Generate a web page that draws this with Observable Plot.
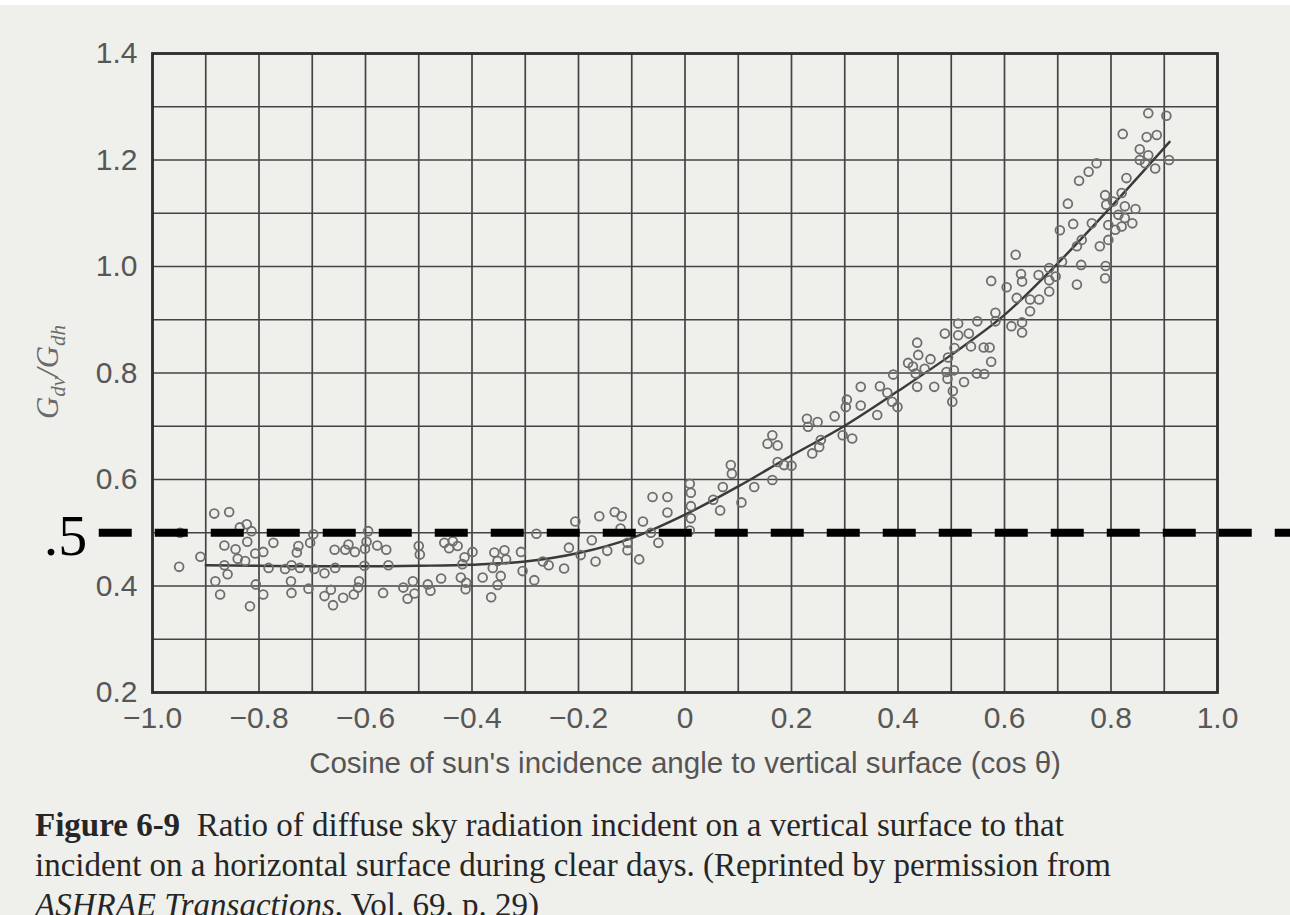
<!DOCTYPE html>
<html>
<head>
<meta charset="utf-8">
<script src="https://cdn.jsdelivr.net/npm/d3@7"></script>
<script src="https://cdn.jsdelivr.net/npm/@observablehq/plot@0.6"></script>
<style>
  html, body { margin: 0; padding: 0; background: #efefeb; }
  body { width: 1290px; height: 915px; overflow: hidden; position: relative; }
  #topstrip { position: absolute; left: 0; top: 0; width: 1290px; height: 5px; background: #ffffff; }
  #chart { position: absolute; left: 0; top: 0; }
  #caption {
    position: absolute; left: 35px; top: 805px;
    font-family: "Liberation Serif", "Times New Roman", serif;
    font-size: 33px; line-height: 40px; color: #262626; white-space: nowrap;
  }
  #caption b { font-weight: bold; }
</style>
</head>
<body>
<div id="topstrip"></div>
<div id="chart"></div>
<div id="caption">
  <b>Figure 6-9</b>&nbsp; Ratio of diffuse sky radiation incident on a vertical surface to that<br>
  incident on a horizontal surface during clear days. (Reprinted by permission from<br>
  <i>ASHRAE Transactions</i>, Vol. 69, p. 29)
</div>
<script>
// ---- Axis ticks ----
const xTicks = [-1.0, -0.8, -0.6, -0.4, -0.2, 0, 0.2, 0.4, 0.6, 0.8, 1.0];
const xTickLabels = ["−1.0", "−0.8", "−0.6", "−0.4", "−0.2", "0", "0.2", "0.4", "0.6", "0.8", "1.0"];
const yTicks = [0.2, 0.4, 0.6, 0.8, 1.0, 1.2, 1.4];
const yTickLabels = ["0.2", "0.4", "0.6", "0.8", "1.0", "1.2", "1.4"];
const xLabel = "Cosine of sun's incidence angle to vertical surface (cos θ)";

// ---- Observed points (cos θ, Gdv/Gdh) ----
const obsX = [
  -0.884,-0.856,-0.948,-0.950,-0.910,-0.865,-0.844,-0.822,-0.836,-0.823,
  -0.814,-0.840,-0.826,-0.807,-0.792,-0.865,-0.859,-0.882,-0.873,-0.806,
  -0.792,-0.817,-0.773,-0.782,-0.751,-0.729,-0.726,-0.704,-0.698,-0.739,
  -0.723,-0.696,-0.740,-0.739,-0.707,-0.677,-0.657,-0.658,-0.638,-0.632,
  -0.620,-0.601,-0.598,-0.595,-0.578,-0.561,-0.602,-0.557,-0.677,-0.665,
  -0.661,-0.642,-0.622,-0.614,-0.612,-0.567,-0.529,-0.511,-0.521,-0.508,
  -0.500,-0.498,-0.483,-0.478,-0.458,
  -0.452,-0.436,-0.443,-0.427,-0.414,-0.399,-0.418,-0.421,-0.411,-0.412,
  -0.380,-0.364,-0.358,-0.339,-0.336,-0.352,-0.361,-0.346,-0.352,-0.308,
  -0.305,-0.283,-0.279,-0.267,-0.256,-0.227,-0.218,-0.206,-0.196,-0.175,
  -0.168,-0.161,-0.146,-0.132,-0.119,-0.121,-0.108,-0.108,-0.086,-0.079,
  -0.064,-0.061,-0.033,-0.050,-0.033,0.009,0.011,0.011,0.011,0.009,
  0.086,0.088,0.071,0.066,0.053,0.106,0.130,0.164,0.155,0.164,
  0.174,0.174,0.186,0.200,0.229,0.231,0.249,0.239,0.252,0.255,
  0.281,0.296,0.314,0.304,0.302,0.330,0.330,0.361,0.366,0.380,
  0.389,0.399,0.391,0.419,0.436,0.438,0.433,0.436,0.461,0.468,
  0.450,0.488,0.491,0.493,0.502,0.505,0.513,0.513,0.524,0.533,
  0.548,0.549,0.494,0.506,0.537,0.561,0.572,0.575,0.562,0.503,
  0.428,
  0.870,0.904,0.822,0.867,0.886,0.854,0.870,0.854,0.864,0.883,
  0.909,0.773,0.758,0.740,0.829,0.789,0.791,0.804,0.820,0.826,
  0.846,0.814,0.719,0.826,0.840,0.820,0.729,0.764,0.795,0.808,
  0.704,0.745,0.736,0.779,0.795,0.744,0.708,0.790,0.789,0.736,
  0.684,0.696,0.684,0.664,0.631,0.633,0.621,0.575,0.604,0.623,
  0.648,0.665,0.684,0.648,0.583,0.583,0.633,0.633,0.613
];
const obsY = [
  0.536,0.539,0.500,0.436,0.455,0.476,0.469,0.483,0.510,0.516,
  0.503,0.451,0.447,0.461,0.464,0.439,0.422,0.409,0.384,0.403,
  0.384,0.362,0.481,0.434,0.432,0.463,0.475,0.481,0.497,0.439,
  0.434,0.432,0.409,0.387,0.395,0.424,0.434,0.468,0.468,0.478,
  0.464,0.470,0.483,0.503,0.476,0.468,0.438,0.439,0.381,0.393,
  0.364,0.378,0.384,0.397,0.409,0.387,0.397,0.409,0.376,0.386,
  0.475,0.459,0.403,0.391,0.414,
  0.481,0.484,0.471,0.475,0.454,0.464,0.441,0.416,0.406,0.394,
  0.416,0.379,0.463,0.467,0.450,0.447,0.434,0.419,0.402,0.464,
  0.428,0.411,0.498,0.446,0.439,0.433,0.472,0.521,0.458,0.486,
  0.446,0.531,0.466,0.539,0.531,0.508,0.481,0.467,0.450,0.521,
  0.500,0.567,0.567,0.481,0.538,0.592,0.575,0.550,0.527,0.504,
  0.627,0.611,0.586,0.542,0.562,0.557,0.586,0.599,0.667,0.683,
  0.664,0.633,0.627,0.626,0.714,0.699,0.708,0.649,0.661,0.674,
  0.719,0.683,0.677,0.750,0.736,0.774,0.739,0.721,0.775,0.763,
  0.746,0.736,0.797,0.819,0.857,0.834,0.799,0.774,0.826,0.774,
  0.808,0.874,0.802,0.789,0.746,0.805,0.893,0.871,0.783,0.874,
  0.799,0.897,0.829,0.847,0.850,0.848,0.848,0.821,0.798,0.766,
  0.812,
  1.288,1.283,1.249,1.243,1.247,1.220,1.209,1.200,1.194,1.184,
  1.200,1.194,1.178,1.161,1.166,1.134,1.116,1.122,1.138,1.113,
  1.108,1.097,1.118,1.091,1.081,1.075,1.080,1.081,1.078,1.069,
  1.068,1.050,1.038,1.038,1.050,1.003,1.009,1.001,0.978,0.966,
  0.997,0.981,0.974,0.984,0.986,0.972,1.022,0.973,0.961,0.941,
  0.938,0.938,0.953,0.916,0.913,0.897,0.895,0.876,0.888
];

// ---- Fitted curve ----
const fitX = [-0.9,-0.8,-0.7,-0.6,-0.5,-0.4,-0.3,-0.2,-0.1,0,0.1,0.2,0.3,0.4,0.5,0.6,0.7,0.8,0.91];
const fitY = [0.439,0.438,0.437,0.437,0.438,0.440,0.446,0.462,0.490,0.534,0.587,0.645,0.701,0.766,0.834,0.909,1.006,1.112,1.234];

// ---- Hand-drawn reference line at .5 ----
const refY = [0.5];
const refFrom = [-1.1];
const refTo = [1.14];
const refLabel = [".5"];

const obs = obsX.map((x, i) => ({x, y: obsY[i]}));
const fit = fitX.map((x, i) => ({x, y: fitY[i]}));
const refs = refY.map((y, i) => ({y, from: refFrom[i], to: refTo[i], label: refLabel[i]}));

const chart = Plot.plot({
  width: 1290,
  height: 800,
  marginLeft: 152,
  marginRight: 73,
  marginTop: 53,
  marginBottom: 108,
  style: {background: "transparent", fontFamily: "'Liberation Sans', Arial, sans-serif", overflow: "visible"},
  x: {domain: [-1, 1], label: null, axis: null},
  y: {domain: [0.2, 1.4], label: null, axis: null},
  marks: [
    Plot.gridX({ticks: 20, stroke: "#444444", strokeOpacity: 1, strokeWidth: 1.7}),
    Plot.gridY({ticks: 12, stroke: "#444444", strokeOpacity: 1, strokeWidth: 1.7}),
    Plot.frame({stroke: "#2e2e2e", strokeWidth: 2.8}),
    Plot.axisX(xTicks, {
      tickSize: 0, tickPadding: 14, fontSize: 30, fill: "#575757",
      tickFormat: d => xTickLabels[xTicks.indexOf(d)], label: null
    }),
    Plot.axisY(yTicks, {
      tickSize: 0, tickPadding: 15, fontSize: 30, fill: "#575757",
      tickFormat: d => yTickLabels[yTicks.indexOf(d)], label: null
    }),
    Plot.text([xLabel], {
      text: d => d, frameAnchor: "bottom", dy: 80, fontSize: 29.5,
      fontFamily: "'Liberation Sans', Arial, sans-serif",
      fill: "#555555"
    }),
    Plot.line(fit, {x: "x", y: "y", curve: "monotone-x", stroke: "#3a3a3a", strokeWidth: 2.4}),
    Plot.dot(obs, {x: "x", y: "y", r: 4.4, fill: "none", stroke: "#6e6e6e", strokeWidth: 1.8}),
    Plot.ruleY(refs, {y: "y", x1: "from", x2: "to", stroke: "#000000", strokeWidth: 8, strokeDasharray: "33,23"}),
    Plot.text(refs, {
      x: "from", y: "y", text: "label", textAnchor: "end", dx: -12, dy: 4,
      fontSize: 58, fontFamily: "'Liberation Serif', 'Times New Roman', serif", fill: "#000000"
    })
  ]
});

document.getElementById("chart").appendChild(chart);

// y-axis label with subscripts: G_dv / G_dh
const yl = d3.select(chart).append("text")
  .attr("transform", "translate(58,372) rotate(-90)")
  .attr("text-anchor", "middle")
  .attr("font-family", "'Liberation Serif', 'Times New Roman', serif")
  .attr("font-style", "italic")
  .attr("font-size", 31)
  .attr("fill", "#6a6a6a");
yl.append("tspan").text("G");
yl.append("tspan").attr("font-size", 21).attr("dy", 7).text("dv");
yl.append("tspan").attr("dy", -7).text("/G");
yl.append("tspan").attr("font-size", 21).attr("dy", 7).text("dh");
</script>
</body>
</html>
